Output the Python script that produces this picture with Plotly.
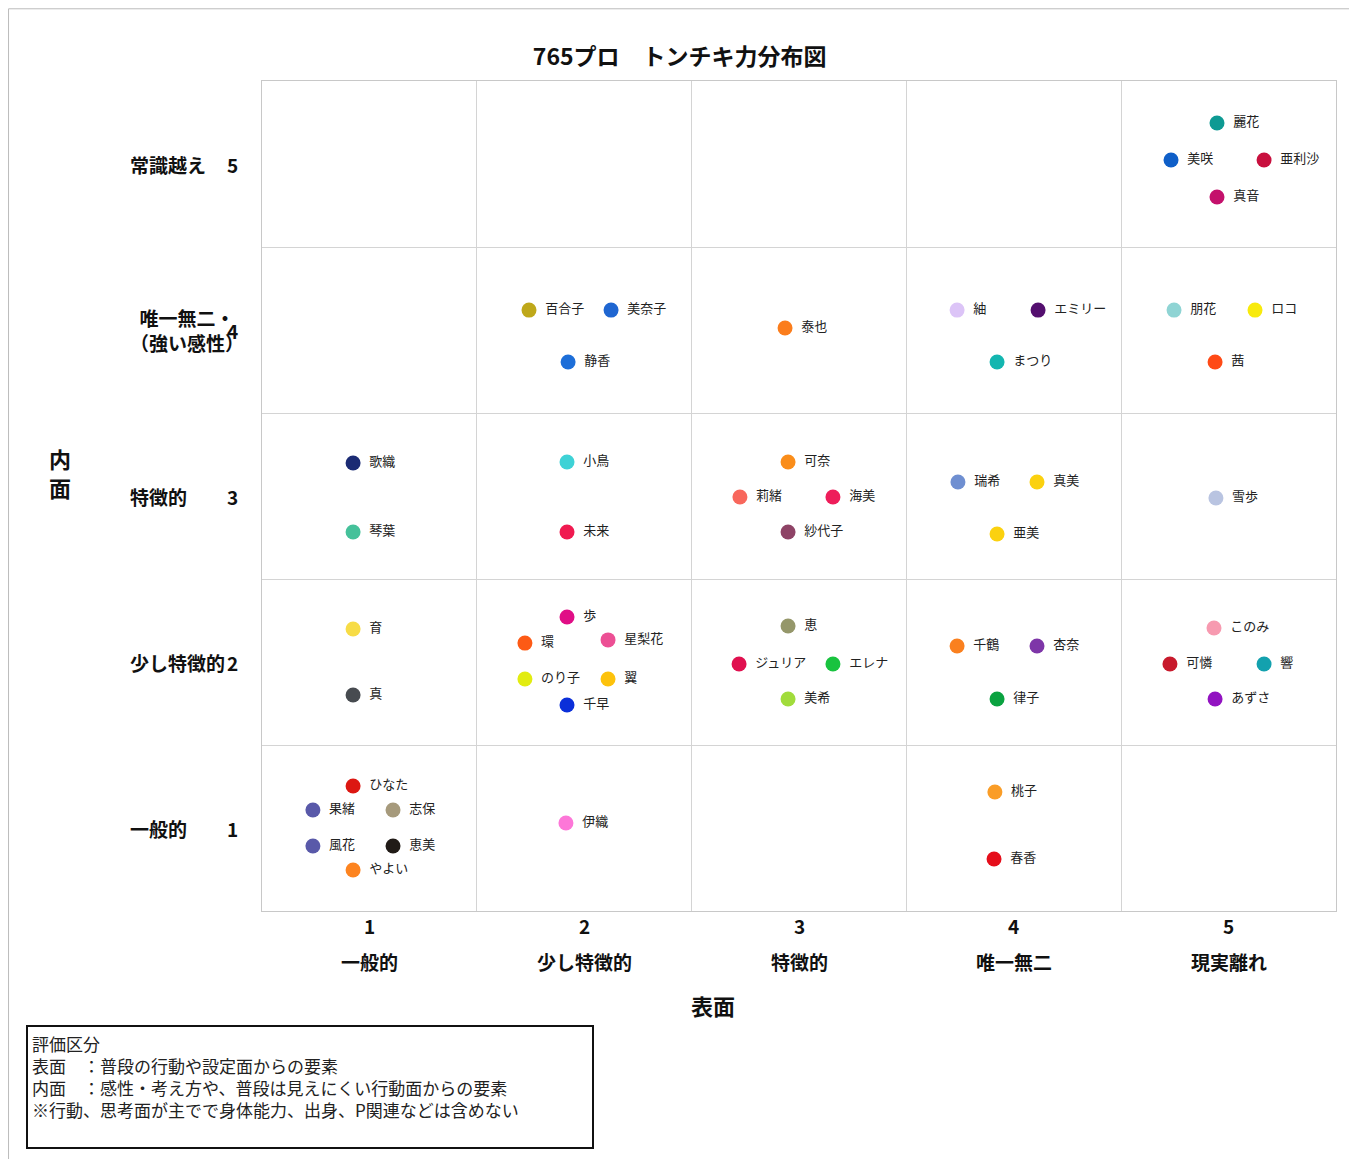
import plotly.graph_objects as go

# idol names, positions (surface x, inner y) and colours
names = ["麗花", "美咲", "亜利沙", "真音",
         "百合子", "美奈子", "静香", "泰也", "紬", "エミリー", "まつり", "朋花", "ロコ", "茜",
         "歌織", "琴葉", "小鳥", "未来", "可奈", "莉緒", "海美", "紗代子", "瑞希", "真美", "亜美", "雪歩",
         "育", "真", "歩", "環", "星梨花", "のり子", "翼", "千早", "恵", "ジュリア", "エレナ", "美希",
         "千鶴", "杏奈", "律子", "このみ", "可憐", "響", "あずさ",
         "ひなた", "果緒", "志保", "風花", "恵美", "やよい", "伊織", "桃子", "春香"]
surface = [4.946, 4.732, 5.165, 4.946,
           1.743, 2.125, 1.925, 2.935, 3.736, 4.113, 3.922, 4.746, 5.123, 4.937,
           0.924, 0.924, 1.920, 1.920, 2.949, 2.725, 3.158, 2.949, 3.740, 4.108, 3.922, 4.941,
           0.924, 0.924, 1.920, 1.724, 2.111, 1.724, 2.111, 1.920, 2.949, 2.721, 3.158, 2.949,
           3.736, 4.108, 3.922, 4.932, 4.727, 5.165, 4.937,
           0.924, 0.737, 1.110, 0.737, 1.110, 0.924, 1.915, 3.912, 3.908]
inner = [5.247, 5.024, 5.024, 4.801,
         4.120, 4.120, 3.807, 4.012, 4.120, 4.120, 3.807, 4.120, 4.120, 3.807,
         3.199, 2.783, 3.205, 2.783, 3.205, 2.994, 2.994, 2.783, 3.084, 3.084, 2.771, 2.988,
         2.199, 1.801, 2.271, 2.114, 2.133, 1.898, 1.898, 1.741, 2.217, 1.988, 1.988, 1.777,
         2.096, 2.096, 1.777, 2.205, 1.988, 1.988, 1.777,
         1.253, 1.108, 1.108, 0.892, 0.892, 0.747, 1.030, 1.217, 0.813]
colors = ["#0e9a93", "#0f5fc8", "#c8103e", "#c4116c",
          "#bfa81a", "#1f66d1", "#1d6ed8", "#fb7d1c", "#dcc4f7", "#540f6f", "#13b6b0", "#8fd4d4", "#f8ea0c", "#ff4a16",
          "#1b2b74", "#45c19a", "#3ed2d6", "#f01a50", "#fa8d1a", "#f8675c", "#ee1d5a", "#8e4366", "#6f8fd1", "#fbd10f", "#fbd10f", "#b9c4e1",
          "#f7dc46", "#474b50", "#e00e86", "#fd5a15", "#ec4f94", "#e2ec11", "#fdc20c", "#0b2fd9", "#95976a", "#e0104f", "#19c33f", "#a1dc3b",
          "#fa801f", "#7e36a8", "#0aa240", "#f79ab0", "#c81a2c", "#13a1ae", "#9213c1",
          "#dc1712", "#5959a9", "#a69a7c", "#5959a9", "#211b17", "#fd8420", "#fd77d8", "#fa9d27", "#e50e1b"]

x_nums = ["1", "2", "3", "4", "5"]
x_labels = ["一般的", "少し特徴的", "特徴的", "唯一無二", "現実離れ"]
y_labels = ["一般的", "少し特徴的", "特徴的", "唯一無二・<br>（強い感性）", "常識越え"]

font = "Noto Sans CJK JP"

fig = go.Figure(go.Scatter(
    x=surface, y=inner, mode="markers+text", text=["  " + n for n in names],
    textposition="middle right", textfont=dict(size=13, color="#222"),
    marker=dict(size=15, color=colors), cliponaxis=False, hoverinfo="text"))

cuts = [1.5, 2.5, 3.5, 4.5]
axis_style = dict(range=[0.5, 5.5], showticklabels=False, showgrid=False, zeroline=False,
                  showline=True, linecolor="#c8c8c8", mirror=True, ticks="",
                  minor=dict(tickvals=cuts, showgrid=True, gridcolor="#d4d4d4", ticks=""))
fig.update_xaxes(**axis_style)
fig.update_yaxes(**axis_style)

ann = []
for i in range(5):
    ann.append(dict(x=i + 1, y=-0.036, xref="x", yref="paper", text="<b>" + x_nums[i] + "</b>",
                    showarrow=False, font=dict(size=19)))
    ann.append(dict(x=i + 1, y=-0.08, xref="x", yref="paper", text="<b>" + x_labels[i] + "</b>",
                    showarrow=False, font=dict(size=19)))
    ann.append(dict(x=-0.034, y=i + 1, xref="paper", yref="y", text="<b>" + str(i + 1) + "</b>",
                    showarrow=False, font=dict(size=19)))
    ann.append(dict(x=-0.125, y=i + 1, xref="paper", yref="y", text="<b>" + y_labels[i] + "</b>",
                    showarrow=False, font=dict(size=19)))
ann.append(dict(x=0.42, y=-0.135, xref="paper", yref="paper", text="<b>表面</b>",
                showarrow=False, font=dict(size=22)))
ann.append(dict(x=-0.2, y=0.5, xref="paper", yref="paper", yshift=24,
                text="<b>内<br>面</b>", showarrow=False, font=dict(size=22)))
box_text = ("評価区分<br>表面　：普段の行動や設定面からの要素<br>"
            "内面　：感性・考え方や、普段は見えにくい行動面からの要素<br>"
            "※行動、思考面が主でで身体能力、出身、P関連などは含めない")
ann.append(dict(x=-0.22, y=-0.137, xref="paper", yref="paper", xanchor="left", yanchor="top",
                text=box_text, align="left", showarrow=False,
                font=dict(size=17, color="#222"), bordercolor="#111", borderwidth=2,
                borderpad=4, width=556, height=112, valign="top"))

fig.update_layout(
    width=1357, height=1159, margin=dict(l=254, r=29, t=73, b=256),
    paper_bgcolor="white", plot_bgcolor="white", showlegend=False,
    font=dict(family=font, color="#111"),
    title=dict(text="<b>765プロ　トンチキ力分布図</b>", x=0.495, y=0.965, xanchor="center",
               font=dict(size=23)),
    annotations=ann,
    shapes=[dict(type="rect", xref="paper", yref="paper", x0=-0.236, x1=1.0265, y0=-0.308, y1=1.087,
                 line=dict(color="#bbb", width=1))])

fig.write_html("out.html")
